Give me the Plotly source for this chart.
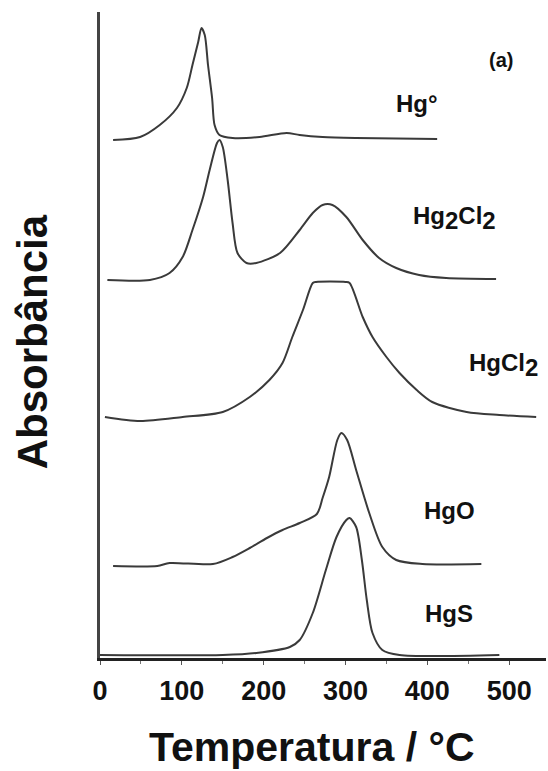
import plotly.graph_objects as go

# Temperature (°C) and absorbance (arbitrary units, curves stacked with offsets)
hg0_T = [16, 49, 73, 94, 106, 113, 120, 124, 128, 132, 137, 140, 146, 162, 195, 228, 244, 272, 313, 412]
hg0_A = [5.18, 5.21, 5.33, 5.50, 5.70, 5.93, 6.16, 6.30, 6.23, 5.93, 5.60, 5.33, 5.23, 5.20, 5.21, 5.25, 5.23, 5.21, 5.20, 5.19]

hg2cl2_T = [9, 61, 85, 101, 113, 126, 134, 143, 146, 150, 156, 162, 168, 179, 191, 220, 244, 260, 272, 284,
            301, 321, 341, 362, 390, 423, 484]
hg2cl2_A = [3.78, 3.78, 3.85, 4.01, 4.28, 4.61, 4.88, 5.15, 5.18, 5.11, 4.78, 4.35, 4.05, 3.95, 3.95, 4.05,
            4.28, 4.45, 4.53, 4.53, 4.41, 4.18, 4.00, 3.90, 3.83, 3.80, 3.79]

hgcl2_T = [6, 49, 101, 150, 183, 207, 223, 235, 248, 260, 264, 300, 305, 321, 333, 350, 366, 387, 406, 448, 488, 533]
hgcl2_A = [2.41, 2.37, 2.41, 2.46, 2.61, 2.78, 2.95, 3.21, 3.48, 3.75, 3.76, 3.76, 3.75, 3.41, 3.21, 3.01, 2.85,
           2.68, 2.56, 2.46, 2.43, 2.41]

hgo_T = [16, 70, 85, 138, 162, 183, 204, 223, 244, 265, 272, 280, 290, 295, 302, 313, 329, 345, 362, 394, 466]
hgo_A = [0.92, 0.92, 0.95, 0.94, 1.01, 1.10, 1.20, 1.28, 1.35, 1.44, 1.60, 1.81, 2.18, 2.25, 2.18, 1.88,
         1.45, 1.11, 0.98, 0.94, 0.94]

hgs_T = [0, 150, 191, 232, 244, 260, 276, 289, 301, 305, 313, 320, 326, 333, 345, 366, 488]
hgs_A = [0.03, 0.03, 0.05, 0.11, 0.18, 0.45, 0.88, 1.21, 1.38, 1.40, 1.31, 0.98, 0.58, 0.25, 0.08, 0.03, 0.03]

tick_vals = [0, 100, 200, 300, 400, 500]
tick_text = ["0", "100", "200", "300", "400", "500"]

series = [
    (hg0_T, hg0_A, "Hg°"),
    (hg2cl2_T, hg2cl2_A, "Hg2Cl2"),
    (hgcl2_T, hgcl2_A, "HgCl2"),
    (hgo_T, hgo_A, "HgO"),
    (hgs_T, hgs_A, "HgS"),
]

fig = go.Figure()
for T, A, name in series:
    fig.add_trace(go.Scatter(x=T, y=A, mode="lines", name=name,
                             line=dict(color="#3a3a3a", width=2, shape="spline", smoothing=0.8),
                             showlegend=False))

FONT = "Liberation Sans, Arial, sans-serif"
lab = dict(family=FONT, size=24, color="#111")
big2 = "<sub><span style='font-size:24px'>2</span></sub>"

fig.add_annotation(x=490, y=5.98, text="<b>(a)</b>", showarrow=False,
                   font=dict(family=FONT, size=20, color="#111"))
fig.add_annotation(x=387, y=5.55, text="<b>Hg°</b>", showarrow=False, font=lab)
fig.add_annotation(x=433, y=4.40, text="<b>Hg" + big2 + "Cl" + big2 + "</b>", showarrow=False, font=lab)
fig.add_annotation(x=493, y=2.93, text="<b>HgCl" + big2 + "</b>", showarrow=False, font=lab)
fig.add_annotation(x=427, y=1.48, text="<b>HgO</b>", showarrow=False, font=lab)
fig.add_annotation(x=427, y=0.45, text="<b>HgS</b>", showarrow=False, font=lab)

# Axis titles
fig.add_annotation(xref="paper", yref="paper", x=-0.152, y=0.489, xanchor="center", yanchor="middle",
                   text="<b>Absorbância</b>", textangle=-90, showarrow=False,
                   font=dict(family=FONT, size=42, color="#111"))
fig.add_annotation(xref="paper", yref="paper", x=0.475, y=-0.138, xanchor="center", yanchor="middle",
                   text="<b>Temperatura / °C</b>", showarrow=False,
                   font=dict(family=FONT, size=41, color="#111"))

fig.update_layout(
    width=548, height=771,
    margin=dict(l=100, r=2, t=12, b=113),
    paper_bgcolor="white", plot_bgcolor="white",
    font=dict(family=FONT, color="#111"),
)
fig.update_xaxes(range=[0, 545], tickvals=tick_vals, ticktext=["<b>%s</b>" % t for t in tick_text],
                 tickfont=dict(family=FONT, size=27, color="#111"),
                 showline=True, linecolor="#222", linewidth=3, ticks="outside", ticklen=4,
                 tickcolor="#555", ticklabelstandoff=3,
                 minor=dict(dtick=50, tick0=0, ticks="outside", ticklen=3, tickcolor="#777"),
                 showgrid=False, zeroline=False)
fig.update_yaxes(range=[0, 6.46], showline=True, linecolor="#444", linewidth=3,
                 showticklabels=False, ticks="", showgrid=False, zeroline=False)

fig.write_html("out.html")
